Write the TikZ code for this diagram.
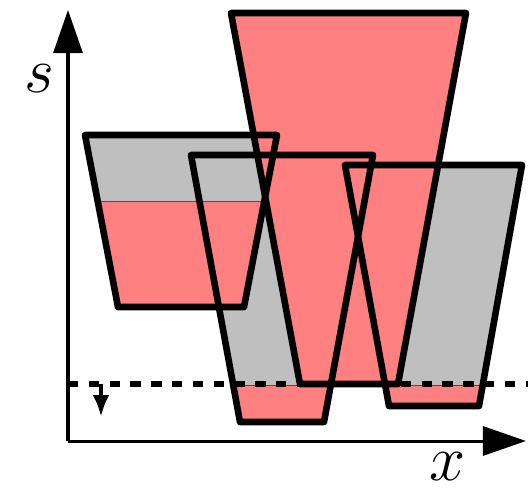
\documentclass[tikz,border=0pt]{standalone}
\usetikzlibrary{arrows.meta}
\definecolor{waterred}{RGB}{255,128,128}
\definecolor{emptygray}{RGB}{191,191,191}
\begin{document}
\begin{tikzpicture}[x=0.25mm, y=-0.25mm,
    bucket/.style={line width=1.65mm, line join=round},
    level/.style={line width=0.25mm, black!70},
    axis/.style={line width=0.75mm, -{Triangle[length=10.75mm, width=7.25mm]}},
    biglabel/.style={inner sep=0pt, font=\Huge, scale=1.85}]
    \useasboundingbox (0,0) rectangle (528,490);

    % Corners of the four buckets
    \coordinate (Atl) at (85,135);  \coordinate (Atr) at (277,135);
    \coordinate (Abr) at (244,307); \coordinate (Abl) at (118,307);
    \coordinate (Btl) at (231,13);  \coordinate (Btr) at (466,13);
    \coordinate (Bbr) at (398,384); \coordinate (Bbl) at (300,384);
    \coordinate (Ctl) at (191,155); \coordinate (Ctr) at (373,155);
    \coordinate (Cbr) at (324,422); \coordinate (Cbl) at (240,422);
    \coordinate (Dtl) at (345,165); \coordinate (Dtr) at (522,165);
    \coordinate (Dbr) at (479,406); \coordinate (Dbl) at (389,406);

    % Middle bucket: water up to the dashed level
    \begin{scope}
        \clip (Ctl) -- (Ctr) -- (Cbr) -- (Cbl) -- cycle;
        \fill[emptygray] (0,0) rectangle (528,490);
        \fill[waterred] (0,385) rectangle (528,490);
        \draw[level] (0,385) -- (528,385);
    \end{scope}

    % Right bucket
    \begin{scope}
        \clip (Dtl) -- (Dtr) -- (Dbr) -- (Dbl) -- cycle;
        \fill[emptygray] (0,0) rectangle (528,490);
        \fill[waterred] (0,385) rectangle (528,490);
        \draw[level] (0,385) -- (528,385);
    \end{scope}

    % Left bucket
    \begin{scope}
        \clip (Atl) -- (Atr) -- (Abr) -- (Abl) -- cycle;
        \fill[emptygray] (0,0) rectangle (528,490);
        \fill[waterred] (0,201) rectangle (528,490);
        \draw[level] (0,201) -- (528,201);
    \end{scope}

    % Tall bucket, full
    \fill[waterred] (Btl) -- (Btr) -- (Bbr) -- (Bbl) -- cycle;

    % Outlines
    \draw[bucket] (Ctl) -- (Ctr) -- (Cbr) -- (Cbl) -- cycle;
    \draw[bucket] (Dtl) -- (Dtr) -- (Dbr) -- (Dbl) -- cycle;
    \draw[bucket] (Atl) -- (Atr) -- (Abr) -- (Abl) -- cycle;
    \draw[bucket] (Btl) -- (Btr) -- (Bbr) -- (Bbl) -- cycle;

    % Dashed level and its arrow
    \draw[line width=1.4mm, dash pattern=on 2.6mm off 2.6mm] (68,384) -- (528,384);
    \draw[line width=1.1mm, -{Latex[length=5.5mm, width=4.25mm]}] (101,384) -- (101,417);

    % Axes
    \coordinate (origin) at (68,441);
    \draw[axis] (origin) -- (68,10);
    \draw[axis] (origin) -- (526,441);
    \node[biglabel] (slabel) at (39,79) {$s$};
    \node[biglabel] (xlabel) at (448,467) {$x$};
\end{tikzpicture}
\end{document}
